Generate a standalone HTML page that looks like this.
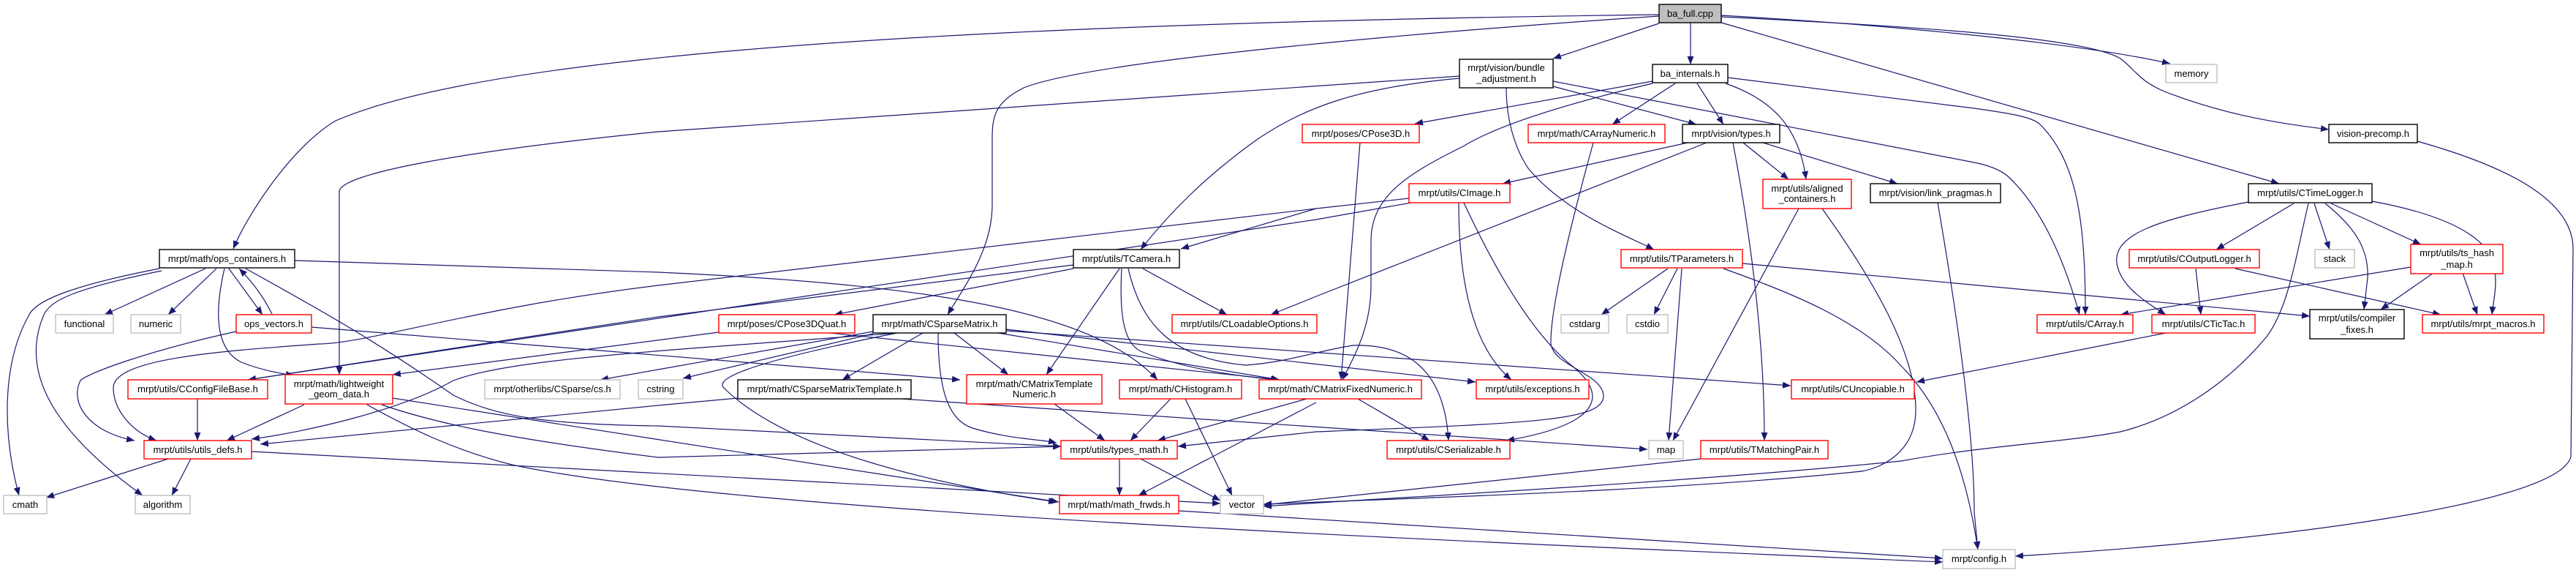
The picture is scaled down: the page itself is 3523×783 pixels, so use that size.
<!DOCTYPE html>
<html><head><meta charset="utf-8"><style>
html,body{margin:0;padding:0;background:#fff;}
svg{display:block;}
.n rect{fill:#fff;stroke-width:1.4;}
.k rect{stroke:#000;}
.r rect{stroke:#ff0000;}
.g rect{stroke:#bfbfbf;}
text{font-family:"Liberation Sans",sans-serif;font-size:13px;text-anchor:middle;fill:#000;}
path.e{fill:none;stroke:#191970;stroke-width:1.2;marker-end:url(#a);}
</style></head><body>
<svg width="3523" height="783" viewBox="0 0 3523 783" xmlns="http://www.w3.org/2000/svg">
<defs><marker id="a" markerUnits="userSpaceOnUse" markerWidth="12" markerHeight="9" refX="11" refY="4.5" orient="auto"><path d="M0,0 L11,4.5 L0,9 z" fill="#191970"/></marker></defs>
<g>
<!-- ba_full edges -->
<path class="e" d="M2269,20 C1500,30 700,60 459,165 C400,200 340,290 319,340"/>
<path class="e" d="M2269,32 L2124,80"/>
<path class="e" d="M2312,31 L2312,88"/>
<path class="e" d="M2269,22 C2000,40 1500,80 1400,120 C1360,140 1357,160 1357,190 L1357,280 C1357,340 1320,390 1296,430"/>
<path class="e" d="M2354,21 C2600,35 2850,60 2968,87"/>
<path class="e" d="M2354,23 C2600,35 2850,50 2900,80 C2920,95 2925,110 2960,125 C3050,160 3130,170 3185,177"/>
<path class="e" d="M2354,31 L3117,251"/>
<!-- bundle_adjustment -->
<path class="e" d="M1996,104 L900,180 C600,210 464,240 464,262 L464,512"/>
<path class="e" d="M1996,107 C1850,120 1780,150 1720,190 C1650,240 1600,290 1560,341"/>
<path class="e" d="M2060,120 C2060,160 2070,200 2090,230 C2140,290 2220,320 2262,341"/>
<path class="e" d="M2124,118 L2320,170"/>
<path class="e" d="M2124,111 L2700,222 C2720,226 2735,232 2745,240 C2800,290 2830,380 2844,430"/>
<!-- ba_internals -->
<path class="e" d="M2260,111 L1935,169"/>
<path class="e" d="M2260,114 C2150,140 2050,170 2001,200 C1920,240 1875,270 1875,330 L1875,390 C1875,450 1850,490 1836,519"/>
<path class="e" d="M2291,114 L2205,170"/>
<path class="e" d="M2321,114 L2357,170"/>
<path class="e" d="M2360,114 C2420,135 2460,170 2470,245"/>
<path class="e" d="M2363,106 L2700,148 C2750,155 2780,160 2790,170 C2840,220 2852,300 2852,430"/>
<!-- CArrayNumeric -->
<path class="e" d="M2179,195 C2150,300 2120,420 2121,470 C2125,500 2190,510 2193,540 C2195,575 2100,578 1800,590 L1611,610"/>
<!-- CPose3D -->
<path class="e" d="M1860,195 L1834,519"/>
<!-- vision/types -->
<path class="e" d="M2308,195 L2055,251"/>
<path class="e" d="M2334,195 L1800,405 L1738,430"/>
<path class="e" d="M2384,195 L2446,245"/>
<path class="e" d="M2411,195 L2595,251"/>
<path class="e" d="M2370,195 C2390,300 2413,450 2413,602"/>
<!-- CImage -->
<path class="e" d="M1927,271 L1800,285 L1615,340"/>
<path class="e" d="M1930,277 L1800,300 L900,435 L339,519"/>
<path class="e" d="M1995,277 C1995,400 2020,480 2067,519"/>
<path class="e" d="M2002,277 C2050,380 2100,460 2150,500 C2200,540 2190,580 2060,602"/>
<path class="e" d="M1800,285 L900,390 C650,420 500,470 436,470 C300,480 155,490 155,530 C155,560 180,590 214,602"/>
<!-- TCamera -->
<path class="e" d="M1468,367 L1141,430"/>
<path class="e" d="M1468,362 L900,433 L339,519"/>
<path class="e" d="M1563,367 L1678,430"/>
<path class="e" d="M1531,367 L1431,512"/>
<path class="e" d="M1534,367 C1530,440 1540,470 1560,480 C1620,505 1700,515 1749,519"/>
<path class="e" d="M1543,367 C1560,440 1600,490 1704,499 C1760,495 1800,480 1850,472 C1920,470 1975,500 1981,602"/>
<!-- CPose3DQuat -->
<path class="e" d="M983,454 L537,512"/>
<path class="e" d="M1135,455 L1750,519"/>
<!-- CSparseMatrix -->
<path class="e" d="M1262,455 L1152,519"/>
<path class="e" d="M1305,455 L1379,512"/>
<path class="e" d="M1283,455 C1283,540 1300,575 1330,585 C1380,600 1420,600 1445,605"/>
<path class="e" d="M1227,455 C1000,500 980,520 990,530 C1080,620 1300,665 1445,686"/>
<path class="e" d="M1227,455 C900,480 700,490 620,520 C550,560 420,590 344,600"/>
<path class="e" d="M1194,453 L900,505 L821,519"/>
<path class="e" d="M1194,456 L934,517"/>
<path class="e" d="M1365,455 L1750,519"/>
<path class="e" d="M1376,452 L2449,527"/>
<path class="e" d="M1376,450 L2018,522"/>
<!-- CSparseMatrixTemplate -->
<path class="e" d="M1009,544 L900,554 L356,607"/>
<path class="e" d="M1233,545 L2253,614"/>
<!-- mid -->
<path class="e" d="M1442,552 L1511,602"/>
<path class="e" d="M1601,545 L1546,602"/>
<path class="e" d="M1621,545 L1685,677"/>
<path class="e" d="M1787,545 L1583,602"/>
<path class="e" d="M1800,550 L1557,677"/>
<path class="e" d="M1857,545 L1955,602"/>
<path class="e" d="M1531,627 L1531,677"/>
<path class="e" d="M1560,627 L1669,684"/>
<path class="e" d="M1612,698 L2657,763"/>
<!-- utils_defs -->
<path class="e" d="M230,627 L63,680"/>
<path class="e" d="M261,627 L235,677"/>
<path class="e" d="M344,617 L1669,688"/>
<path class="e" d="M270,545 L270,602"/>
<path class="e" d="M416,553 L310,602"/>
<path class="e" d="M537,544 L1448,686"/>
<path class="e" d="M502,553 C560,585 620,615 700,635 C1000,700 2000,740 2657,768"/>
<path class="e" d="M522,553 C600,580 700,600 900,625 L1451,610"/>
<!-- ops_containers -->
<path class="e" d="M281,367 L143,430"/>
<path class="e" d="M296,367 L230,430"/>
<path class="e" d="M313,367 L359,430"/>
<path class="e" d="M372,429 C360,405 345,385 327,367"/>
<path class="e" d="M307,367 C290,440 300,480 330,495 C355,505 380,510 402,513"/>
<path class="e" d="M218,367 C100,390 50,410 40,430 C0,500 5,600 26,677"/>
<path class="e" d="M221,370 C100,395 70,410 60,430 C30,500 60,580 195,677"/>
<path class="e" d="M403,356 L900,372 C1300,390 1500,430 1583,519"/>
<path class="e" d="M336,367 C450,430 520,470 620,540 C680,570 750,580 900,582 L1451,610"/>
<path class="e" d="M323,453 C200,480 120,510 110,520 C95,550 120,590 184,602"/>
<path class="e" d="M426,447 L1313,519"/>
<!-- TParameters -->
<path class="e" d="M2281,367 L2190,430"/>
<path class="e" d="M2294,367 L2262,430"/>
<path class="e" d="M2300,367 L2282,602"/>
<path class="e" d="M2357,367 C2450,400 2546,439 2600,500 C2660,560 2690,650 2705,751"/>
<path class="e" d="M2383,360 L3159,432"/>
<!-- aligned -->
<path class="e" d="M2460,285 L2288,602"/>
<path class="e" d="M2492,285 C2560,380 2620,480 2620,560 C2620,620 2570,640 2546,644 C2300,670 1950,680 1728,689"/>
<path class="e" d="M2650,277 C2680,450 2700,600 2700,700 L2705,751"/>
<path class="e" d="M2326,627 L1728,690"/>
<!-- CTicTac / CTimeLogger -->
<path class="e" d="M2962,455 L2621,522"/>
<path class="e" d="M3137,278 L3031,341"/>
<path class="e" d="M3075,276 C2950,300 2890,320 2895,360 C2900,390 2930,410 2962,430"/>
<path class="e" d="M3165,278 L3186,341"/>
<path class="e" d="M3180,278 C3220,310 3240,340 3238,380 L3233,423"/>
<path class="e" d="M3188,278 L3311,334"/>
<path class="e" d="M3244,275 C3380,300 3410,340 3412,370 C3415,395 3410,410 3408,430"/>
<path class="e" d="M3157,278 C3140,350 3130,420 3100,460 C3050,520 2980,570 2900,590 C2820,605 2720,608 2600,630 C2300,660 1900,680 1728,692"/>
<path class="e" d="M3003,367 L3010,430"/>
<path class="e" d="M3057,367 L3338,430"/>
<path class="e" d="M3297,365 L2900,430"/>
<path class="e" d="M3328,373 L3256,423"/>
<path class="e" d="M3368,373 L3388,430"/>
<path class="e" d="M3306,193 C3420,225 3519,270 3519,340 L3516,624 C3500,690 3100,740 2756,760"/>
</g>
<!-- nodes -->
<g class="n k"><rect x="2269" y="6" width="85" height="25" style="fill:#bfbfbf"/><text x="2311.5" y="23">ba_full.cpp</text></g>
<g class="n k"><rect x="1996" y="81" width="128" height="39"/><text x="2060" y="97">mrpt/vision/bundle</text><text x="2060" y="112">_adjustment.h</text></g>
<g class="n k"><rect x="2260" y="88" width="103" height="25"/><text x="2311.5" y="105">ba_internals.h</text></g>
<g class="n g"><rect x="2962" y="88" width="70" height="25"/><text x="2997" y="105">memory</text></g>
<g class="n r"><rect x="1781" y="170" width="160" height="25"/><text x="1861" y="187">mrpt/poses/CPose3D.h</text></g>
<g class="n r"><rect x="2090" y="170" width="187" height="25"/><text x="2183.5" y="187">mrpt/math/CArrayNumeric.h</text></g>
<g class="n k"><rect x="2301" y="170" width="133" height="25"/><text x="2367.5" y="187">mrpt/vision/types.h</text></g>
<g class="n k"><rect x="3185" y="170" width="121" height="25"/><text x="3245.5" y="187">vision-precomp.h</text></g>
<g class="n r"><rect x="1927" y="251" width="138" height="26"/><text x="1996" y="268">mrpt/utils/CImage.h</text></g>
<g class="n r"><rect x="2411" y="245" width="121" height="40"/><text x="2471.5" y="262">mrpt/utils/aligned</text><text x="2471.5" y="276">_containers.h</text></g>
<g class="n k"><rect x="2558" y="251" width="178" height="26"/><text x="2647" y="268">mrpt/vision/link_pragmas.h</text></g>
<g class="n k"><rect x="3075" y="251" width="169" height="26"/><text x="3159.5" y="268">mrpt/utils/CTimeLogger.h</text></g>
<g class="n k"><rect x="218" y="341" width="185" height="25"/><text x="310.5" y="358">mrpt/math/ops_containers.h</text></g>
<g class="n k"><rect x="1468" y="341" width="145" height="25"/><text x="1540.5" y="358">mrpt/utils/TCamera.h</text></g>
<g class="n r"><rect x="2217" y="341" width="166" height="25"/><text x="2300" y="358">mrpt/utils/TParameters.h</text></g>
<g class="n r"><rect x="2912" y="341" width="178" height="25"/><text x="3001" y="358">mrpt/utils/COutputLogger.h</text></g>
<g class="n g"><rect x="3166" y="341" width="54" height="25"/><text x="3193" y="358">stack</text></g>
<g class="n r"><rect x="3297" y="334" width="126" height="40"/><text x="3360" y="350">mrpt/utils/ts_hash</text><text x="3360" y="366">_map.h</text></g>
<g class="n g"><rect x="76" y="430" width="79" height="25"/><text x="115.5" y="447">functional</text></g>
<g class="n g"><rect x="179" y="430" width="68" height="25"/><text x="213" y="447">numeric</text></g>
<g class="n r"><rect x="323" y="430" width="103" height="25"/><text x="374.5" y="447">ops_vectors.h</text></g>
<g class="n r"><rect x="983" y="430" width="186" height="25"/><text x="1076" y="447">mrpt/poses/CPose3DQuat.h</text></g>
<g class="n k"><rect x="1194" y="430" width="182" height="25"/><text x="1285" y="447">mrpt/math/CSparseMatrix.h</text></g>
<g class="n r"><rect x="1603" y="430" width="198" height="25"/><text x="1702" y="447">mrpt/utils/CLoadableOptions.h</text></g>
<g class="n g"><rect x="2135" y="430" width="65" height="25"/><text x="2167.5" y="447">cstdarg</text></g>
<g class="n g"><rect x="2225" y="430" width="56" height="25"/><text x="2253" y="447">cstdio</text></g>
<g class="n r"><rect x="2786" y="430" width="131" height="25"/><text x="2851.5" y="447">mrpt/utils/CArray.h</text></g>
<g class="n r"><rect x="2943" y="430" width="141" height="25"/><text x="3013.5" y="447">mrpt/utils/CTicTac.h</text></g>
<g class="n k"><rect x="3159" y="423" width="129" height="40"/><text x="3223.5" y="439">mrpt/utils/compiler</text><text x="3223.5" y="455">_fixes.h</text></g>
<g class="n r"><rect x="3313" y="430" width="166" height="25"/><text x="3396" y="447">mrpt/utils/mrpt_macros.h</text></g>
<g class="n r"><rect x="175" y="519" width="191" height="26"/><text x="270.5" y="536">mrpt/utils/CConfigFileBase.h</text></g>
<g class="n r"><rect x="390" y="512" width="147" height="40"/><text x="463.5" y="529">mrpt/math/lightweight</text><text x="463.5" y="543">_geom_data.h</text></g>
<g class="n g"><rect x="663" y="519" width="185" height="26"/><text x="755.5" y="536">mrpt/otherlibs/CSparse/cs.h</text></g>
<g class="n g"><rect x="873" y="519" width="61" height="26"/><text x="903.5" y="536">cstring</text></g>
<g class="n k"><rect x="1009" y="519" width="237" height="26"/><text x="1127.5" y="536">mrpt/math/CSparseMatrixTemplate.h</text></g>
<g class="n r"><rect x="1322" y="512" width="185" height="40"/><text x="1414.5" y="529">mrpt/math/CMatrixTemplate</text><text x="1414.5" y="543">Numeric.h</text></g>
<g class="n r"><rect x="1531" y="519" width="167" height="26"/><text x="1614.5" y="536">mrpt/math/CHistogram.h</text></g>
<g class="n r"><rect x="1722" y="519" width="222" height="26"/><text x="1833" y="536">mrpt/math/CMatrixFixedNumeric.h</text></g>
<g class="n r"><rect x="2019" y="519" width="154" height="26"/><text x="2096" y="536">mrpt/utils/exceptions.h</text></g>
<g class="n r"><rect x="2450" y="519" width="168" height="26"/><text x="2534" y="536">mrpt/utils/CUncopiable.h</text></g>
<g class="n r"><rect x="197" y="602" width="147" height="25"/><text x="270.5" y="619">mrpt/utils/utils_defs.h</text></g>
<g class="n r"><rect x="1451" y="602" width="159" height="25"/><text x="1530.5" y="619">mrpt/utils/types_math.h</text></g>
<g class="n r"><rect x="1897" y="602" width="168" height="25"/><text x="1981" y="619">mrpt/utils/CSerializable.h</text></g>
<g class="n g"><rect x="2255" y="602" width="47" height="25"/><text x="2278.5" y="619">map</text></g>
<g class="n r"><rect x="2326" y="602" width="174" height="25"/><text x="2413" y="619">mrpt/utils/TMatchingPair.h</text></g>
<g class="n g"><rect x="5" y="677" width="59" height="25"/><text x="34.5" y="694">cmath</text></g>
<g class="n g"><rect x="185" y="677" width="75" height="25"/><text x="222.5" y="694">algorithm</text></g>
<g class="n r"><rect x="1449" y="677" width="163" height="25"/><text x="1530.5" y="694">mrpt/math/math_frwds.h</text></g>
<g class="n g"><rect x="1669" y="677" width="59" height="25"/><text x="1698.5" y="694">vector</text></g>
<g class="n g"><rect x="2657" y="751" width="99" height="26"/><text x="2706.5" y="768">mrpt/config.h</text></g>
</svg>
</body></html>
